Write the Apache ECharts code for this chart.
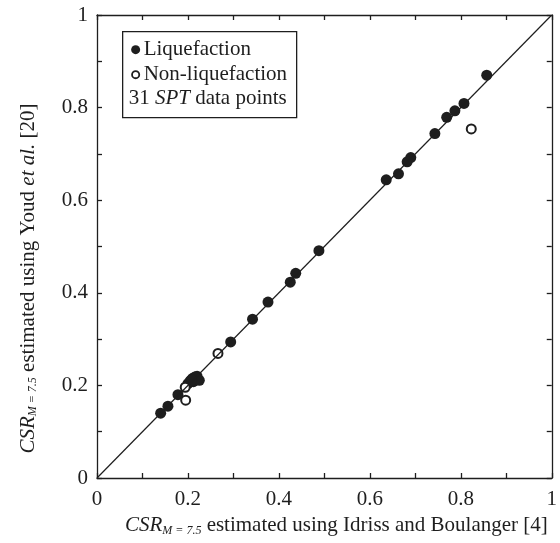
<!DOCTYPE html>
<html>
<head>
<meta charset="utf-8">
<script src="https://cdn.jsdelivr.net/npm/echarts@6/dist/echarts.min.js"></script>
<style>
html,body{margin:0;padding:0;background:#fff;}
#chart{width:560px;height:543px;}
</style>
</head>
<body>
<div id="chart"></div>
<script>
// liquefaction (filled)
var liqX = [0.857, 0.807, 0.787, 0.769, 0.743, 0.690, 0.682, 0.663, 0.636,
            0.488, 0.437, 0.425, 0.376, 0.342, 0.294,
            0.200, 0.205, 0.210, 0.212, 0.215, 0.218, 0.220, 0.225, 0.208,
            0.178, 0.156, 0.140];
var liqY = [0.870, 0.809, 0.793, 0.779, 0.744, 0.692, 0.683, 0.657, 0.644,
            0.491, 0.442, 0.423, 0.380, 0.343, 0.294,
            0.204, 0.210, 0.215, 0.208, 0.218, 0.214, 0.220, 0.211, 0.212,
            0.180, 0.155, 0.140];
// non-liquefaction (open)
var nonX = [0.823, 0.266, 0.194, 0.195];
var nonY = [0.754, 0.269, 0.196, 0.168];
// 1:1 line
var lineX = [0, 1];
var lineY = [0, 1];

var font = '"Liberation Serif", "Times New Roman", serif';
var ink = '#1e1e1e';

function pairs(xs, ys){
    var out = [];
    for(var i=0;i<xs.length;i++){ out.push([xs[i], ys[i]]); }
    return out;
}
//只标 0.2 的倍数
function lbl(v){
    var k = Math.round(v*10);
    if(k % 2) return '';
    return String(k/10);
}

var chart = echarts.init(document.getElementById('chart'));
var axLine = {show:true, onZero:false, lineStyle:{color:ink, width:1.3}};
var tick = {show:true, inside:true, length:5, lineStyle:{color:ink, width:1.3}};
var subRich = {
    csr:{fontFamily:font, fontSize:21, fontStyle:'italic', color:ink},
    sub:{fontFamily:font, fontSize:12, fontStyle:'italic', color:ink, padding:[10,0,0,0]},
    t:{fontFamily:font, fontSize:21, color:ink},
    it:{fontFamily:font, fontSize:21, fontStyle:'italic', color:ink}
};

chart.setOption({
    animation:false,
    grid:{left:97, right:1, top:15, bottom:65},
    xAxis:[{
        type:'value', min:0, max:1, interval:0.1,
        axisLine:axLine, axisTick:tick, splitLine:{show:false},
        axisLabel:{formatter:lbl, fontFamily:font, fontSize:21, color:ink, margin:11},
        name:'{csr|CSR}{sub|M = 7.5}{t| estimated using Idriss and Boulanger [4]}',
        nameLocation:'middle', nameGap:33,
        nameTextStyle:{rich:subRich, padding:[0,0,0,24]}
    },{
        type:'value', min:0, max:1, interval:0.1, position:'top',
        axisLine:axLine, axisTick:tick, axisLabel:{show:false}, splitLine:{show:false}
    }],
    yAxis:[{
        type:'value', min:0, max:1, interval:0.1,
        axisLine:axLine, axisTick:tick, splitLine:{show:false},
        axisLabel:{formatter:lbl, fontFamily:font, fontSize:21, color:ink, margin:9},
        name:'{csr|CSR}{sub|M = 7.5}{t| estimated using Youd }{it|et al.}{t| [20]}',
        nameLocation:'middle', nameGap:58, nameRotate:90,
        nameTextStyle:{rich:subRich, padding:[0,64,0,0]}
    },{
        type:'value', min:0, max:1, interval:0.1, position:'right',
        axisLine:axLine, axisTick:tick, axisLabel:{show:false}, splitLine:{show:false}
    }],
    series:[{
        type:'line', data:pairs(lineX, lineY), symbol:'none',
        lineStyle:{color:ink, width:1.2}, silent:true
    },{
        name:'Liquefaction', type:'scatter', data:pairs(liqX, liqY),
        symbol:'circle', symbolSize:11,
        itemStyle:{color:ink, opacity:1}
    },{
        name:'Non-liquefaction', type:'scatter', data:pairs(nonX, nonY),
        symbol:'circle', symbolSize:9,
        itemStyle:{color:'#fff', borderColor:ink, borderWidth:2, opacity:1}
    }],
    graphic:[{
        type:'group', left:122, top:31,
        children:[
            {type:'rect', shape:{x:0, y:0, width:174, height:86},
             style:{fill:'#fff', stroke:ink, lineWidth:1.3}},
            {type:'circle', shape:{cx:13, cy:18, r:4.5}, style:{fill:ink}},
            {type:'text', x:21, y:18,
             style:{text:'Liquefaction', fontFamily:font, fontSize:21, fill:ink, verticalAlign:'middle'}},
            {type:'circle', shape:{cx:13, cy:43, r:3.6},
             style:{fill:'#fff', stroke:ink, lineWidth:1.8}},
            {type:'text', x:21, y:43,
             style:{text:'Non-liquefaction', fontFamily:font, fontSize:21, fill:ink, verticalAlign:'middle'}},
            {type:'text', x:6, y:67,
             style:{text:'31 {i|SPT} data points', fontFamily:font, fontSize:21, fill:ink, verticalAlign:'middle',
                    rich:{i:{fontFamily:font, fontSize:21, fontStyle:'italic', fill:ink}}}}
        ]
    }]
});
</script>
</body>
</html>
